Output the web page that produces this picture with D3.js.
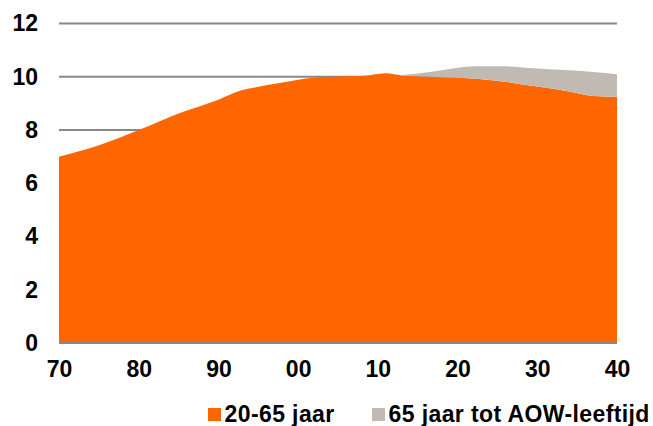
<!DOCTYPE html>
<html>
<head>
<meta charset="utf-8">
<script src="https://cdn.jsdelivr.net/npm/d3@7"></script>
<style>
  html, body { margin: 0; padding: 0; background: #fff; }
  svg { display: block; }
  text { font-family: "Liberation Sans", Arial, sans-serif; font-weight: bold; fill: #000; }
</style>
</head>
<body>
<svg id="chart" width="653" height="426"></svg>
<script>
// ---- data ----
const years = [1970, 1975, 1980, 1985, 1990, 1993, 1995, 1998, 2002, 2006, 2008, 2011, 2013, 2015, 2018, 2022, 2026, 2030, 2034, 2037, 2040];
const series1 = [7.0, 7.43, 8.0, 8.62, 9.14, 9.5, 9.62, 9.78, 9.97, 10.02, 10.03, 10.13, 10.05, 10.02, 9.98, 9.93, 9.81, 9.63, 9.45, 9.28, 9.25]; // 20-65 jaar
const series2 = [0, 0, 0, 0, 0, 0, 0, 0, 0, 0, 0, 0, 0.02, 0.1, 0.26, 0.46, 0.58, 0.68, 0.79, 0.9, 0.84]; // 65 jaar tot AOW-leeftijd
const seriesNames = ["20-65 jaar", "65 jaar tot AOW-leeftijd"];
const xTickValues = [1970, 1980, 1990, 2000, 2010, 2020, 2030, 2040];
const xTickLabels = ["70", "80", "90", "00", "10", "20", "30", "40"];
const yTickValues = [0, 2, 4, 6, 8, 10, 12];

const colors = ["#FF6600", "#C0BAB3"];
const fontSize = 23;

const svg = d3.select("#chart");
const x = d3.scaleLinear().domain([1970, 2040]).range([59, 617]);
const y = d3.scaleLinear().domain([0, 12]).range([343, 23.5]);

const table = years.map((yr, i) => ({ year: yr, a: series1[i], b: series2[i] }));
const stack = d3.stack().keys(["a", "b"]);
const layers = stack(table);

// gridlines
svg.append("g").selectAll("line").data(yTickValues).join("line")
  .attr("x1", x(1970)).attr("x2", x(2040))
  .attr("y1", d => y(d)).attr("y2", d => y(d))
  .attr("stroke", "#888").attr("stroke-width", 2);

// areas
const area = d3.area()
  .x(d => x(d.data.year))
  .y0(d => y(d[0]))
  .y1(d => y(d[1]))
  .curve(d3.curveMonotoneX);

svg.append("g").selectAll("path").data(layers).join("path")
  .attr("d", area)
  .attr("fill", (d, i) => colors[i]);

// baseline
svg.append("line")
  .attr("x1", x(1970)).attr("x2", x(2040))
  .attr("y1", y(0)).attr("y2", y(0))
  .attr("stroke", "#888").attr("stroke-width", 2);

// y axis labels
const yAxis = d3.axisLeft(y).tickValues(yTickValues).tickSize(0).tickPadding(0);
const gy = svg.append("g").attr("transform", "translate(38,0)").call(yAxis);
gy.select(".domain").remove();
gy.selectAll("text").attr("font-size", fontSize).style("font-family", "'Liberation Sans', Arial, sans-serif").style("font-weight", "bold").attr("fill", "#000");

// x axis labels
const xAxis = d3.axisBottom(x).tickValues(xTickValues).tickFormat((d, i) => xTickLabels[i]).tickSize(0).tickPadding(0);
const gx = svg.append("g").attr("transform", "translate(0,361)").call(xAxis);
gx.select(".domain").remove();
gx.selectAll("text").attr("font-size", fontSize).style("font-family", "'Liberation Sans', Arial, sans-serif").style("font-weight", "bold").attr("fill", "#000");

// legend
const legendItems = [
  { name: seriesNames[0], color: colors[0], sx: 208 },
  { name: seriesNames[1], color: colors[1], sx: 372 }
];
const lg = svg.append("g");
legendItems.forEach(it => {
  lg.append("rect").attr("x", it.sx).attr("y", 408).attr("width", 13).attr("height", 13).attr("fill", it.color);
  lg.append("text").attr("x", it.sx + 16.5).attr("y", 421.5).attr("font-size", fontSize)
    .attr("letter-spacing", 0.4).text(it.name);
});
</script>
</body>
</html>
